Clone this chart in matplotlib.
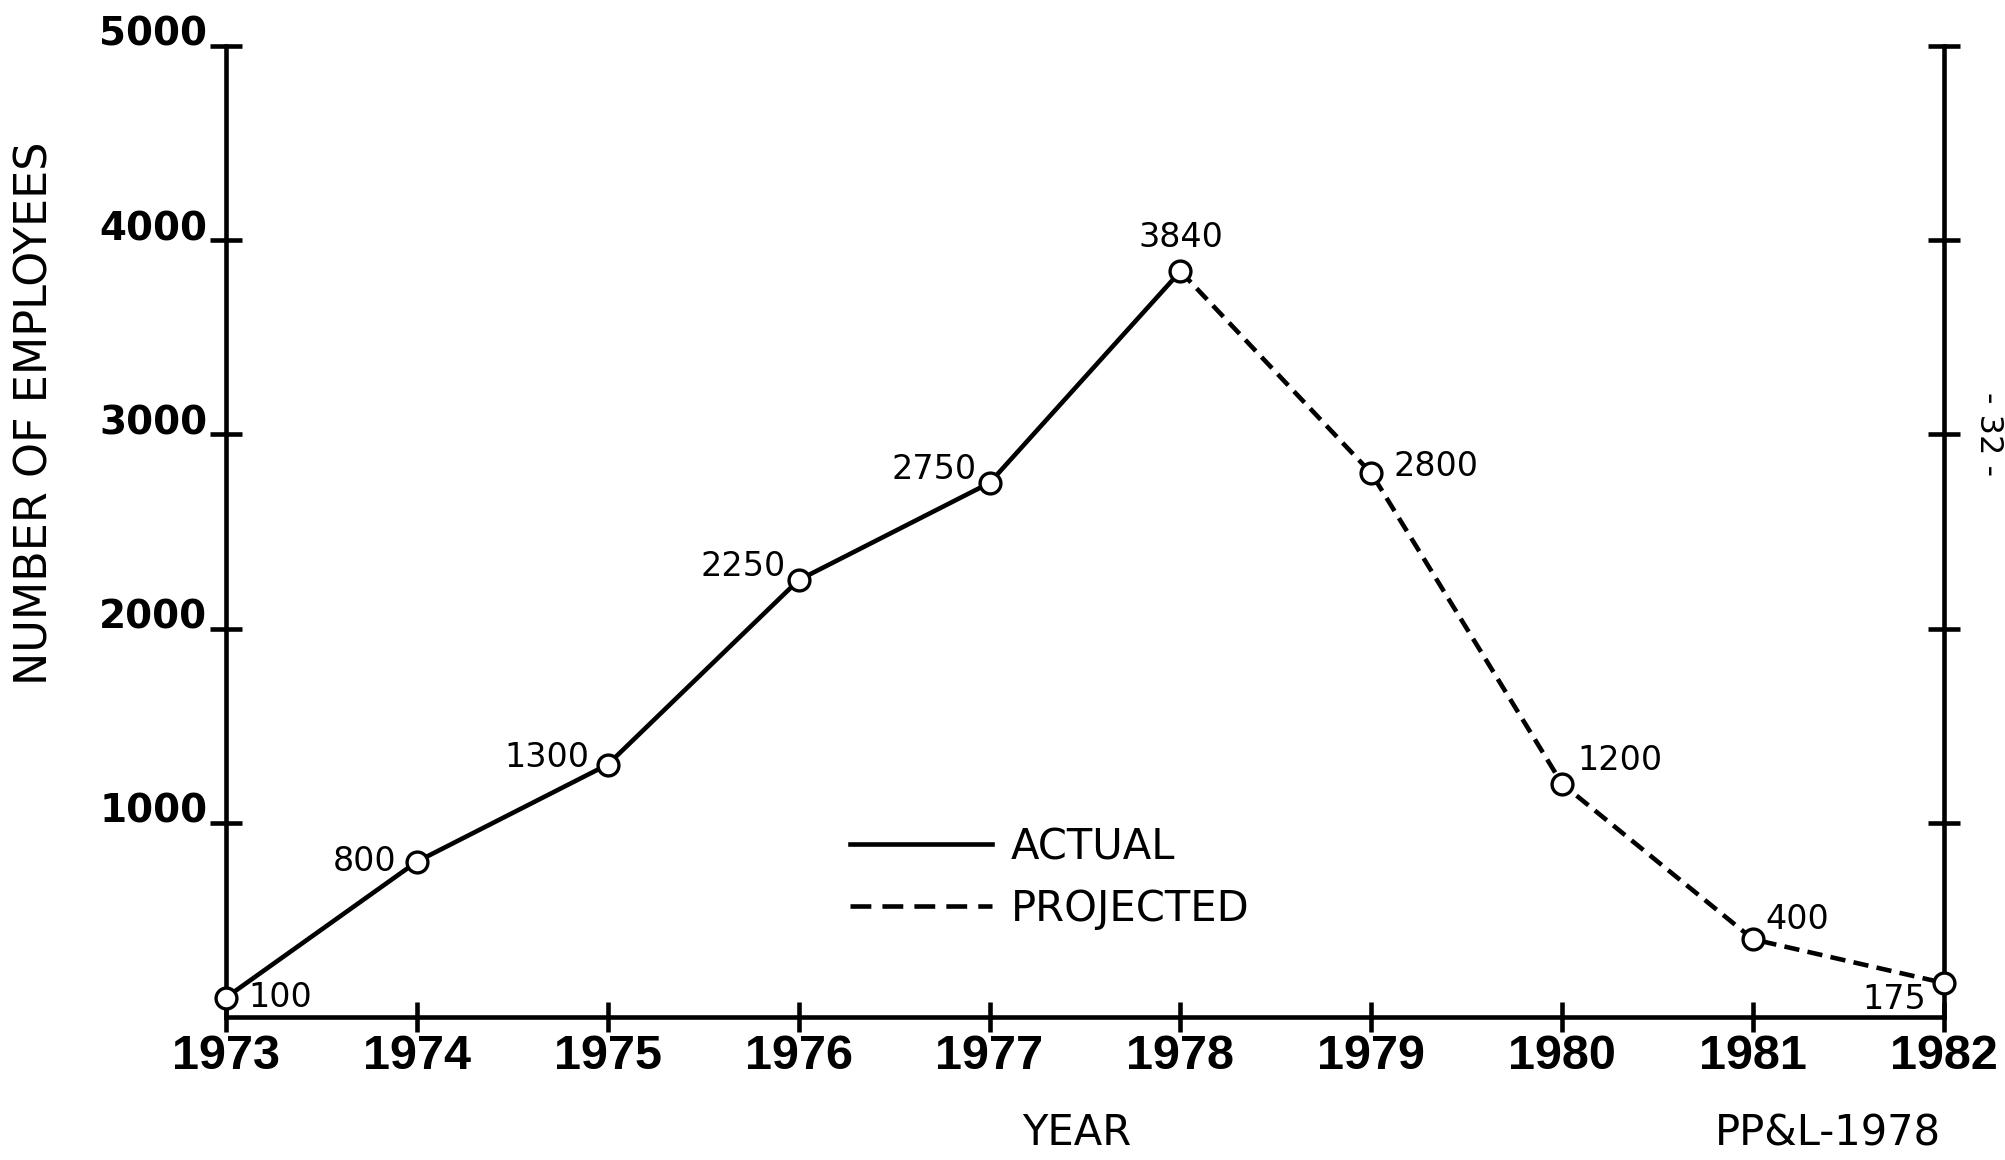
import matplotlib
matplotlib.use('Agg')
import matplotlib.pyplot as plt
from matplotlib.lines import Line2D

# ---- data ----
years = [1973, 1974, 1975, 1976, 1977, 1978, 1979, 1980, 1981, 1982]
actual_years = [1973, 1974, 1975, 1976, 1977, 1978]
actual_values = [100, 800, 1300, 2250, 2750, 3840]
projected_years = [1978, 1979, 1980, 1981, 1982]
projected_values = [3840, 2800, 1200, 400, 175]
y_ticks = [1000, 2000, 3000, 4000, 5000]
y_tick_labels = ['1000', '2000', '3000', '4000', '5000']
x_tick_labels = ['1973', '1974', '1975', '1976', '1977', '1978', '1979', '1980', '1981', '1982']
series_labels = ['ACTUAL', 'PROJECTED']

# label placement (style only): offset in points and horizontal alignment
label_offsets = [(16, 0), (-15, 0), (-13, 5), (-9, 10), (-9, 10), (0, 24),
                 (16, 5), (11, 17), (9, 14), (-13, -12)]
label_ha = ['left', 'right', 'right', 'right', 'right', 'center',
            'left', 'left', 'left', 'right']

plt.rcParams['font.family'] = ['DejaVu Sans']
plt.rcParams['lines.scale_dashes'] = False

W, H = 2005, 1160
fig = plt.figure(figsize=(W / 100, H / 100), dpi=100)
ax = fig.add_axes([226 / W, 1 - 1017 / H, (1944 - 226) / W, (1017 - 46) / H])

lw = 3.3
dash = (11, 6)
ax.plot(actual_years, actual_values, color='black', lw=lw, solid_capstyle='round', zorder=2)
ax.plot(projected_years, projected_values, color='black', lw=lw, dashes=dash, zorder=2)

all_years = actual_years + projected_years[1:]
all_values = actual_values + projected_values[1:]
ax.plot(all_years, all_values, linestyle='none', marker='o', markersize=15,
        markerfacecolor='white', markeredgecolor='black', markeredgewidth=2.4,
        zorder=3, clip_on=False)

for (x, v, off, ha) in zip(all_years, all_values, label_offsets, label_ha):
    ax.annotate(str(v), (x, v), xytext=off, textcoords='offset points',
                ha=ha, va='center', fontsize=24, color='black')

ax.set_xlim(1973, 1982)
ax.set_ylim(0, 5000)

ax.spines['top'].set_visible(False)
for s in ['left', 'right', 'bottom']:
    ax.spines[s].set_linewidth(lw)

ax.set_xticks(years)
ax.set_xticklabels(x_tick_labels, fontsize=35, fontweight='bold',
                   family=['Liberation Sans', 'DejaVu Sans'])
ax.set_yticks(y_ticks)
ax.set_yticklabels(y_tick_labels, fontsize=28, fontweight='bold')
for t in ax.get_yticklabels():
    t.set_verticalalignment('baseline')

ax.tick_params(axis='x', direction='inout', length=21, width=lw, pad=2)
ax.tick_params(axis='y', direction='inout', length=23, width=lw, pad=2,
               left=True, right=True, labelright=False)

handles = [Line2D([], [], color='black', lw=lw),
           Line2D([], [], color='black', lw=lw, dashes=(15, 8))]
ax.legend(handles, series_labels, loc='upper left',
          bbox_to_anchor=(850 / W, 1 - 826 / H), bbox_transform=fig.transFigure,
          frameon=False, fontsize=30, handlelength=3.4, handletextpad=0.45,
          labelspacing=0.48, borderpad=0, borderaxespad=0)

fig.text(35 / W, 1 - 413 / H, 'NUMBER OF EMPLOYEES', rotation=90,
         ha='center', va='center', fontsize=32)
fig.text(1077 / W, 1 - 1133 / H, 'YEAR', ha='center', va='center', fontsize=30)
fig.text(1941 / W, 1 - 1134 / H, 'PP&L-1978', ha='right', va='center', fontsize=30)
fig.text(1988 / W, 1 - 434 / H, '- 32 -', rotation=-90, ha='center', va='center',
         fontsize=23)

fig.savefig('out.png', dpi=100)
